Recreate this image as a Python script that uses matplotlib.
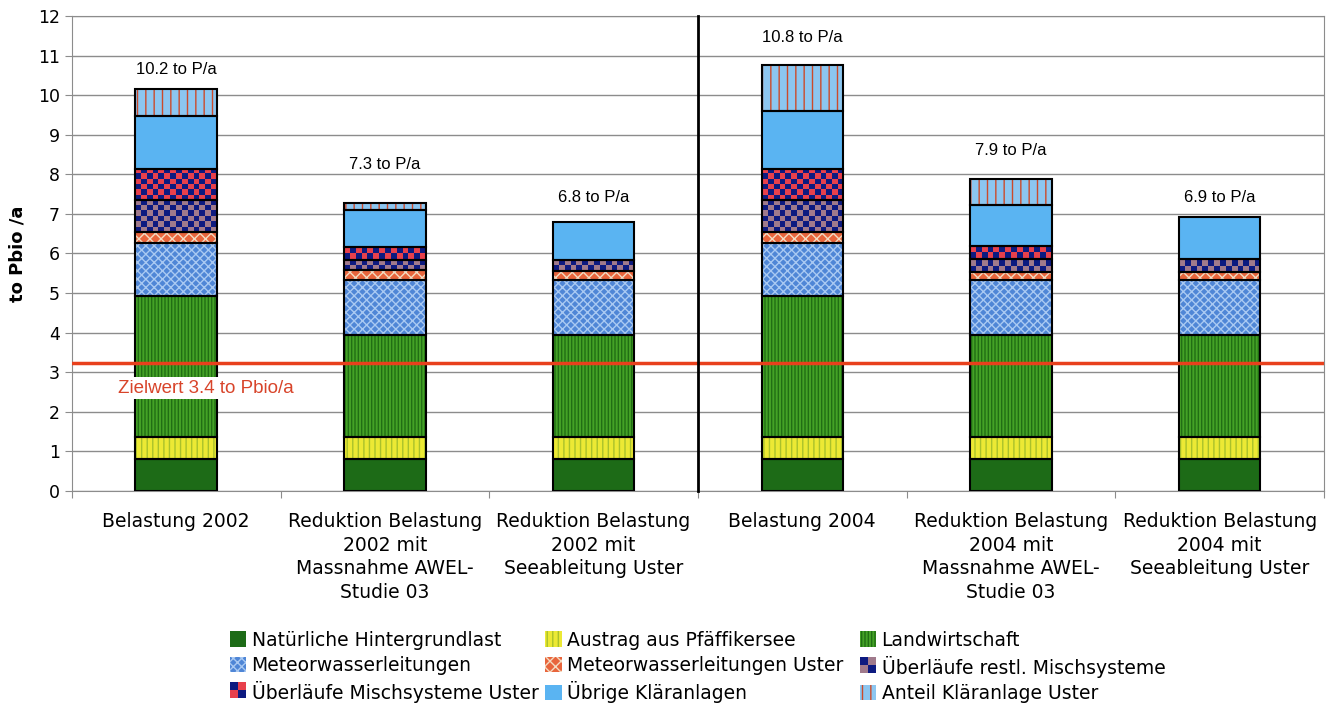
import numpy as np
import matplotlib.pyplot as plt
from matplotlib.patches import Patch, Rectangle
from matplotlib.colors import ListedColormap
from matplotlib.legend_handler import HandlerBase

# Phosphor-Belastung Greifensee, Anteile je Quelle (to P/a)
kategorien = ['Belastung 2002',
              'Reduktion Belastung\n2002 mit\nMassnahme AWEL-\nStudie 03',
              'Reduktion Belastung\n2002 mit\nSeeableitung Uster',
              'Belastung 2004',
              'Reduktion Belastung\n2004 mit\nMassnahme AWEL-\nStudie 03',
              'Reduktion Belastung\n2004 mit\nSeeableitung Uster']

natuerlich = [0.81, 0.81, 0.81, 0.81, 0.81, 0.81]
austrag = [0.56, 0.56, 0.56, 0.56, 0.56, 0.56]
landwirtschaft = [3.56, 2.58, 2.58, 3.56, 2.58, 2.58]
meteor = [1.34, 1.38, 1.38, 1.34, 1.38, 1.38]
meteor_uster = [0.26, 0.24, 0.22, 0.26, 0.20, 0.20]
ueberl_restl = [0.82, 0.27, 0.29, 0.82, 0.32, 0.32]
ueberl_uster = [0.79, 0.33, 0.0, 0.79, 0.33, 0.0]
uebrige_ka = [1.33, 0.93, 0.96, 1.46, 1.04, 1.08]
ara_uster = [0.69, 0.18, 0.0, 1.17, 0.67, 0.0]

summen_text = ['10.2 to P/a', '7.3 to P/a', '6.8 to P/a', '10.8 to P/a', '7.9 to P/a', '6.9 to P/a']
label_abstand = [0.30, 0.78, 0.42, 0.50, 0.52, 0.30]

zielwert = 3.24

# name, werte, farbe, hatch-farbe, hatch, karo (zweite farbe)
reihen = [
    ('Natürliche Hintergrundlast', natuerlich, '#1d6b17', '#1d6b17', '', None),
    ('Austrag aus Pfäffikersee', austrag, '#ece934', '#a9c12b', '|||', None),
    ('Landwirtschaft', landwirtschaft, '#44a226', '#216e14', '|||||', None),
    ('Meteorwasserleitungen', meteor, '#4f86d6', '#a9c9f2', 'xxxx', None),
    ('Meteorwasserleitungen Uster', meteor_uster, '#e8653c', '#f4dcc2', 'xxx', None),
    ('Überläufe restl. Mischsysteme', ueberl_restl, '#a07a8c', None, '', '#0d1a80'),
    ('Überläufe Mischsysteme Uster', ueberl_uster, '#e8404c', None, '', '#0d1a80'),
    ('Übrige Kläranlagen', uebrige_ka, '#5ab4f2', '#5ab4f2', '', None),
    ('Anteil Kläranlage Uster', ara_uster, '#8cc6f0', '#cc4a2a', '||', None),
]

plt.rcParams['hatch.linewidth'] = 1.0


class KaroHandler(HandlerBase):
    # kleines 2x2 Karo fuer die Legende
    def __init__(self, c1, c2):
        super().__init__()
        self.c1, self.c2 = c1, c2

    def create_artists(self, legend, orig, xd, yd, width, height, fontsize, trans):
        arts = []
        for i in range(2):
            for j in range(2):
                c = self.c1 if (i + j) % 2 == 0 else self.c2
                r = Rectangle((xd + i * width / 2, yd + j * height / 2), width / 2, height / 2,
                              facecolor=c, edgecolor='none', transform=trans)
                arts.append(r)
        return arts


fig = plt.figure(figsize=(13.3, 7.04), dpi=100)
ax = fig.add_axes([0.054, 0.3026, 0.9415, 0.6747])

x = np.arange(len(kategorien))
breite = 0.39
unten = np.zeros(len(kategorien))
handles = []
handler_map = {}

for name, werte, fc, hc, hatch, karo in reihen:
    werte = np.array(werte)
    for i in range(len(x)):
        if werte[i] <= 0:
            continue
        if karo is None:
            bars = ax.bar(x[i], werte[i], breite, bottom=unten[i], color=fc, edgecolor=hc,
                          hatch=hatch, linewidth=0, zorder=2)
        else:
            bars = ax.bar(x[i], werte[i], breite, bottom=unten[i], color=fc, linewidth=0, zorder=2)
            r = bars[0]
            nx = 14
            ny = max(2, int(round(werte[i] / 0.14)))
            gitter = np.add.outer(np.arange(ny), np.arange(nx)) % 2
            ax.imshow(gitter, cmap=ListedColormap([karo, fc]),
                      extent=(r.get_x(), r.get_x() + r.get_width(), r.get_y(), r.get_y() + r.get_height()),
                      aspect='auto', interpolation='nearest', origin='lower', zorder=2.5)
        ax.bar(x[i], werte[i], breite, bottom=unten[i], fill=False, edgecolor='black',
               linewidth=1.5, zorder=4)
    unten = unten + werte
    if karo is None:
        h = Patch(facecolor=fc, edgecolor=hc, hatch=hatch, linewidth=0, label=name)
    else:
        h = Patch(facecolor=fc, label=name)
        handler_map[h] = KaroHandler(fc, karo)
    handles.append(h)

# Summen ueber den Balken
for i in range(len(x)):
    ax.text(x[i], unten[i] + label_abstand[i], summen_text[i], ha='center', va='bottom',
            fontsize=12, family='Liberation Sans')

# Zielwert
ax.axhline(zielwert, color='#e8401c', linewidth=2.5, zorder=5)
ax.text(-0.28, 2.6, 'Zielwert 3.4 to Pbio/a', color='#d8442a', fontsize=13.5,
        family='Liberation Sans', va='center', ha='left', zorder=6,
        bbox=dict(facecolor='white', edgecolor='none', pad=2))

# Trennlinie 2002 / 2004
ax.plot([2.5, 2.5], [0, 12], color='black', linewidth=2, zorder=5, clip_on=False)

ax.set_xlim(-0.5, 5.5)
ax.set_ylim(0, 12)
ax.set_yticks(range(0, 13))
ax.yaxis.grid(True, color='#8c8c8c', linewidth=1)
ax.set_axisbelow(True)
ax.set_xticks(np.arange(-0.5, 6, 1))
ax.set_xticklabels([])
ax.set_xticks(x, minor=True)
ax.set_xticklabels(kategorien, minor=True, fontsize=13.5, linespacing=1.32, va='top')
ax.tick_params(axis='x', which='minor', length=0, pad=15)
ax.tick_params(axis='x', which='major', length=5, color='#8c8c8c')
ax.tick_params(axis='y', length=5, color='#8c8c8c', labelsize=12.5)
for s in ax.spines.values():
    s.set_color('#8c8c8c')
ax.set_ylabel('to Pbio /a', fontsize=13, fontweight='bold', labelpad=8)

# Legende: drei Spalten, zeilenweise gelesen
spalten = [[0, 3, 6], [1, 4, 7], [2, 5, 8]]
spalten_x = [0.1729, 0.4098, 0.6466]
for sp, sx in zip(spalten, spalten_x):
    leg = fig.legend([handles[k] for k in sp], [reihen[k][0] for k in sp],
                     handler_map=handler_map, loc='upper left', bbox_to_anchor=(sx, 0.1044),
                     frameon=False, fontsize=13.5, handlelength=0.88, handleheight=0.88,
                     handletextpad=0.27, labelspacing=0.33, borderpad=0, borderaxespad=0)

fig.savefig('out.png', dpi=100)
